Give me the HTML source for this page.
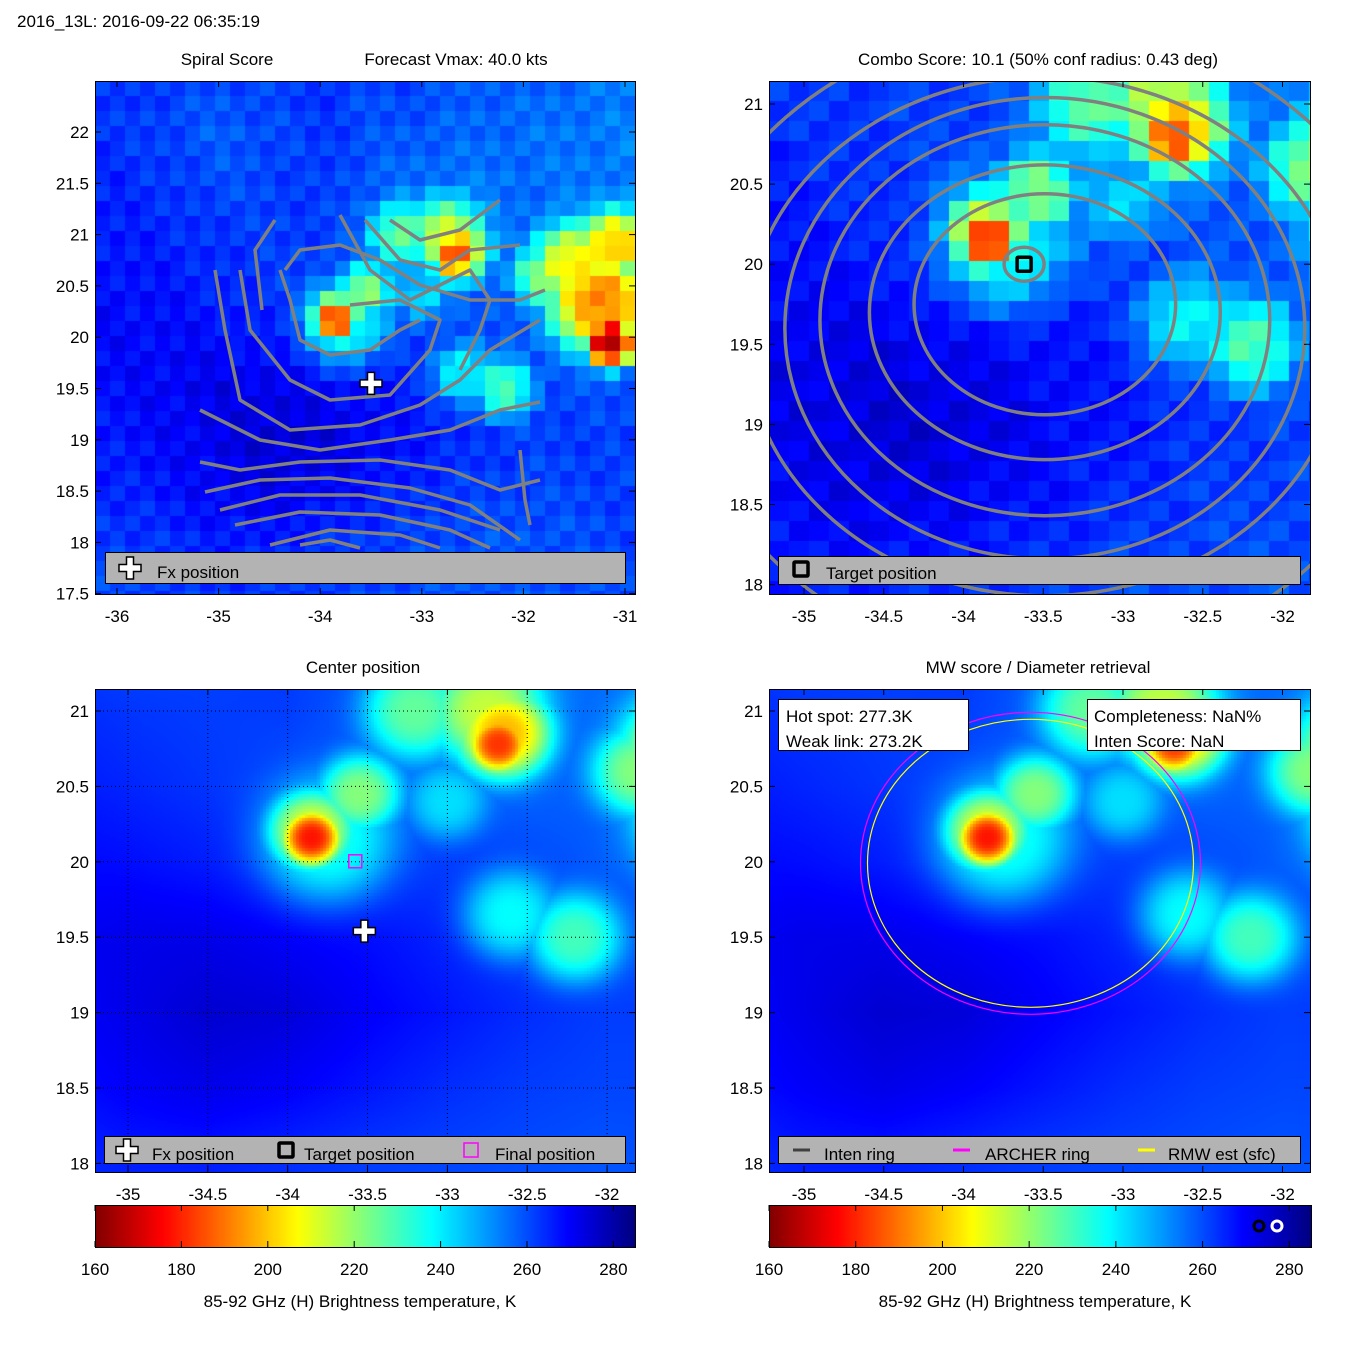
<!DOCTYPE html>
<html><head><meta charset="utf-8">
<style>
body{margin:0;background:#fff;font-family:"Liberation Sans",sans-serif;}
#root{position:relative;width:1350px;height:1350px;overflow:hidden;}
canvas{position:absolute;}
svg{position:absolute;left:0;top:0;}
text{font-family:"Liberation Sans",sans-serif;font-size:17px;fill:#000;}
</style></head>
<body>
<div id="root">
<canvas id="c1" style="left:95px;top:81px" width="540" height="513"></canvas>
<canvas id="c2" style="left:769px;top:81px" width="541" height="513"></canvas>
<canvas id="c3" style="left:95px;top:689px" width="540" height="483"></canvas>
<canvas id="c4" style="left:769px;top:689px" width="541" height="483"></canvas>
<canvas id="cb1" style="left:95px;top:1205px" width="540" height="42"></canvas>
<canvas id="cb2" style="left:769px;top:1205px" width="542" height="42"></canvas>
<svg id="s" width="1350" height="1350"></svg>
</div>
<script>
// Background brightness temperature grid (K): lat rows 22.5..17.5 step 0.5, lon cols -36..-31 step 0.5
const gridLons=[-36,-35.5,-35,-34.5,-34,-33.5,-33,-32.5,-32,-31.5,-31];
const gridLats=[22.5,22,21.5,21,20.5,20,19.5,19,18.5,18,17.5];
const tb=[
[264,262,260,262,264,260,262,258,258,256,255],
[263,261,258,260,263,260,258,257,256,255,254],
[265,263,260,261,263,258,256,255,256,255,254],
[266,265,263,262,262,258,256,255,257,256,255],
[268,267,265,263,260,258,258,257,258,257,256],
[269,269,268,266,262,262,262,261,258,258,257],
[268,270,272,272,270,268,265,262,260,260,260],
[267,269,272,275,274,270,267,264,262,262,262],
[265,267,270,272,270,267,264,262,261,261,262],
[262,264,266,266,264,262,261,260,259,260,261],
[261,262,263,263,262,261,260,259,259,260,261]];
// cold-cloud features (deep convection): centre lon/lat, core temperature, radius (deg)
const spotLon=[-33.75,-33.55,-33.85,-33.85,-33.2,-32.75,-32.65,-32.68,-31.5,-31.25,-31.15,-32.2,-32.6,-31.8,-33.0,-31.1];
const spotLat=[20.15,20.45,20.2,20.16,21.0,21.0,20.85,20.78,20.7,20.35,19.95,19.5,19.65,20.6,20.4,20.9];
const spotT  =[236,222,210,178,226,214,198,182,205,192,162,230,238,222,242,200];
const spotR  =[0.42,0.26,0.28,0.2,0.32,0.36,0.3,0.2,0.42,0.5,0.25,0.3,0.3,0.3,0.25,0.35];
const cbTicks=[160,180,200,220,240,260,280];
const p1X=[-36,-35,-34,-33,-32,-31], p1Y=[22,21.5,21,20.5,20,19.5,19,18.5,18,17.5];
const p2X=[-35,-34.5,-34,-33.5,-33,-32.5,-32], p2Y=[21,20.5,20,19.5,19,18.5,18];
const p3Y=[21,20.5,20,19.5,19,18.5,18];
// combo-score contour rings (deg)
const ringCx=-33.49, ringCy=19.75;
const ringRx=[0.82,1.1,1.41,1.63,1.88,2.3], ringRy=[0.69,0.92,1.22,1.44,1.62,2.0];
const TMIN=160,TMAX=285;

function jet(v){const c=x=>Math.max(0,Math.min(1,x));
 return [c(1.5-Math.abs(4*v-3)),c(1.5-Math.abs(4*v-2)),c(1.5-Math.abs(4*v-1))].map(x=>Math.round(x*255));}
function tcol(T){const v=1-(T-TMIN)/(TMAX-TMIN);const k=jet(v);return `rgb(${k[0]},${k[1]},${k[2]})`;}
function sample(lon,lat){
 let fx=(lon-gridLons[0])/0.5, fy=(gridLats[0]-lat)/0.5;
 fx=Math.max(0,Math.min(gridLons.length-1.001,fx)); fy=Math.max(0,Math.min(gridLats.length-1.001,fy));
 const i=Math.floor(fx),j=Math.floor(fy),a=fx-i,b=fy-j;
 const base=tb[j][i]*(1-a)*(1-b)+tb[j][i+1]*a*(1-b)+tb[j+1][i]*(1-a)*b+tb[j+1][i+1]*a*b;
 let T=base;
 for(let k=0;k<spotLon.length;k++){const d2=((lon-spotLon[k])**2+(lat-spotLat[k])**2)/(spotR[k]**2);
  const g=Math.exp(-Math.pow(d2,1.5));const t=spotT[k]+(base-spotT[k])*(1-g);if(t<T)T=t;}
 return T;}

const P1={L:95,T:81,W:540,H:513,x:l=>117+(l+36)*101.6,y:a=>132+(22-a)*102.6,ix:x=>-36+(x-117)/101.6,iy:y=>22-(y-132)/102.6};
const P2={L:769,T:81,W:541,H:513,x:l=>804+(l+35)*159.5,y:a=>104+(21-a)*160.2,ix:x=>-35+(x-804)/159.5,iy:y=>21-(y-104)/160.2};
const P3={L:95,T:689,W:540,H:483,x:l=>128+(l+35)*159.7,y:a=>711+(21-a)*150.8,ix:x=>-35+(x-128)/159.7,iy:y=>21-(y-711)/150.8};
const P4={L:769,T:689,W:541,H:483,x:l=>804+(l+35)*159.5,y:a=>711+(21-a)*150.8,ix:x=>-35+(x-804)/159.5,iy:y=>21-(y-711)/150.8};

function paint(id,P,bs,jit){const ctx=document.getElementById(id).getContext('2d');
 for(let y=0;y<P.H;y+=bs)for(let x=0;x<P.W;x+=bs){
  let T=sample(P.ix(P.L+x+bs/2),P.iy(P.T+y+bs/2));
  if(jit)T+=((x*7+y*13)%11-5)*0.7;
  ctx.fillStyle=tcol(T);ctx.fillRect(x,y,bs,bs);}}
paint('c1',P1,15,true);paint('c2',P2,20,true);paint('c3',P3,3,false);paint('c4',P4,3,false);
['cb1','cb2'].forEach(id=>{const c=document.getElementById(id),ctx=c.getContext('2d');
 for(let x=0;x<c.width;x++){ctx.fillStyle=tcol(TMIN+(x+0.5)/c.width*(TMAX-TMIN));ctx.fillRect(x,0,1,42);}});

const S=document.getElementById('s');const NS='http://www.w3.org/2000/svg';
function el(tag,attrs,txt){const e=document.createElementNS(NS,tag);for(const k in attrs)e.setAttribute(k,attrs[k]);if(txt!==undefined)e.textContent=txt;S.appendChild(e);return e;}
function txt(x,y,s,anchor,name){const e=el('text',{x:x,y:y,'text-anchor':anchor||'start'},s);
 
 return e;}
function frame(P,name){const e=el('rect',{x:P.L+.5,y:P.T+.5,width:P.W,height:P.H,fill:'none',stroke:'#000'});
 
 }
function axes(P,xs,ys){xs.forEach(v=>{const x=P.x(v);el('line',{x1:x,x2:x,y1:P.T+P.H,y2:P.T+P.H-6,stroke:'#000'});el('line',{x1:x,x2:x,y1:P.T,y2:P.T+6,stroke:'#000'});
  txt(x,P.T+P.H+28,String(v),'middle','x-tick-label');});
 ys.forEach(v=>{const y=P.y(v);el('line',{x1:P.L,x2:P.L+6,y1:y,y2:y,stroke:'#000'});el('line',{x1:P.L+P.W,x2:P.L+P.W-6,y1:y,y2:y,stroke:'#000'});
  txt(P.L-6,y+6,String(v),'end','y-tick-label');});}
function clip(id,x,y,w,h){const cp=el('clipPath',{id:id});const r=document.createElementNS(NS,'rect');
 [['x',x],['y',y],['width',w],['height',h]].forEach(a=>r.setAttribute(a[0],a[1]));cp.appendChild(r);}

txt(17,27,'2016_13L: 2016-09-22 06:35:19','start','figure-title');

clip('cl1',95,81,540,513);
const g1=el('g',{fill:'none',stroke:'#808080','stroke-width':3.5,'stroke-linejoin':'round','clip-path':'url(#cl1)'});


const c1paths=["M300,545 L330,540 L360,548","M270,545 L330,530 L400,535 L440,548","M235,525 L300,512 L380,515 L450,530 L490,548","M220,510 L280,495 L360,495 L440,510 L500,530","M205,492 L260,480 L330,478 L410,488 L470,505 L520,540","M200,462 L240,470 L300,462 L380,460 L450,470 L500,490 L540,480","M200,410 L260,440 L320,450 L390,440 L450,430 L500,410 L540,402","M215,270 L225,330 L240,400 L290,430 L360,425 L420,405 L460,380 L490,350 L540,320","M240,270 L250,330 L290,380 L330,400 L390,395 L430,350 L440,320 L400,300 L350,305","M280,270 L290,300 L300,340 L330,355 L370,350 L400,330 L420,320","M275,220 L255,250 L262,310","M285,270 L300,250 L340,245 L380,260 L420,285 L470,300 L520,300 L545,290","M340,215 L370,270 L410,300 L440,285 L470,270 L490,300 L480,330 L460,370","M365,220 L400,260 L440,270 L470,250 L520,245","M390,220 L420,240 L460,230 L500,200","M520,450 L525,500 L530,525"];
c1paths.forEach(d=>{const p=document.createElementNS(NS,'path');p.setAttribute('d',d);g1.appendChild(p);});

clip('cl2',769,81,541,513);
const g2=el('g',{fill:'none',stroke:'#808080','stroke-width':3.5,'clip-path':'url(#cl2)'});


const inner=document.createElementNS(NS,'ellipse');
[['cx',P2.x(-33.62)],['cy',P2.y(20.0)],['rx',20],['ry',17]].forEach(a=>inner.setAttribute(a[0],a[1]));g2.appendChild(inner);
ringRx.forEach((r,i)=>{const e=document.createElementNS(NS,'ellipse');
 e.setAttribute('cx',P2.x(ringCx));e.setAttribute('cy',P2.y(ringCy)+i*8);e.setAttribute('rx',r*159.5);e.setAttribute('ry',ringRy[i]*160.2);g2.appendChild(e);});

const gr=el('g',{stroke:'#000','stroke-dasharray':'1,3','stroke-width':1});


p2X.forEach(v=>{const l=document.createElementNS(NS,'line');l.setAttribute('x1',P3.x(v));l.setAttribute('x2',P3.x(v));l.setAttribute('y1',689);l.setAttribute('y2',1172);gr.appendChild(l);});
p3Y.forEach(v=>{const l=document.createElementNS(NS,'line');l.setAttribute('x1',95);l.setAttribute('x2',635);l.setAttribute('y1',P3.y(v));l.setAttribute('y2',P3.y(v));gr.appendChild(l);});

const ringLon=-33.58, ringLat=19.99;
const e1=el('ellipse',{cx:P4.x(ringLon),cy:P4.y(ringLat),rx:170,ry:151,fill:'none',stroke:'#ff00ff','stroke-width':1.2});

const e2=el('ellipse',{cx:P4.x(ringLon),cy:P4.y(ringLat),rx:163,ry:144,fill:'none',stroke:'#ffff00','stroke-width':1.2});


function cross(x,y,name){const g=el('g',{});
 const d=`M${x-3.5},${y-11}h7v7.5h7.5v7h-7.5v7.5h-7v-7.5h-7.5v-7h7.5z`;
 const p=document.createElementNS(NS,'path');p.setAttribute('d',d);p.setAttribute('fill','#fff');p.setAttribute('stroke','#000');p.setAttribute('stroke-width',1.5);g.appendChild(p);}
function tsq(x,y,name){const r=el('rect',{x:x-7,y:y-7,width:14,height:14,fill:'none',stroke:'#000','stroke-width':3.5,rx:1});
 }

cross(P1.x(-33.5),P1.y(19.55),'fx-position-marker');
tsq(P2.x(-33.62),P2.y(20.0),'target-position-marker');
cross(P3.x(-33.52),P3.y(19.54),'fx-position-marker');
const fm=el('rect',{x:P3.x(-33.58)-6,y:P3.y(20.0)-7,width:13,height:13,fill:'none',stroke:'#ff00ff','stroke-width':1.5});


frame(P1,'spiral-score-axes');frame(P2,'combo-score-axes');frame(P3,'center-position-axes');frame(P4,'mw-score-axes');
axes(P1,p1X,p1Y);axes(P2,p2X,p2Y);axes(P3,p2X,p3Y);axes(P4,p2X,p3Y);

function box(x,y,w,h,name,fill){const r=el('rect',{x:x+.5,y:y+.5,width:w,height:h,fill:fill,stroke:'#000'});
 }
box(105,552,520,31,'legend-spiral','#b3b3b3');cross(130,568,'legend-fx-icon');txt(157,578,'Fx position','start','legend-entry');
box(778,556,522,28,'legend-combo','#b3b3b3');tsq(801,569,'legend-target-icon');txt(826,579,'Target position','start','legend-entry');
box(104,1136,521,27,'legend-center','#b3b3b3');cross(127,1150,'legend-fx-icon');txt(152,1160,'Fx position','start','legend-entry');
tsq(286,1150,'legend-target-icon');txt(304,1160,'Target position','start','legend-entry');
const lf=el('rect',{x:464,y:1143,width:14,height:14,fill:'none',stroke:'#ff00ff','stroke-width':1.5});
txt(495,1160,'Final position','start','legend-entry');
box(778,1136,522,27,'legend-mw','#b3b3b3');
[['#404040',793,824,'Inten ring'],['#ff00ff',953,985,'ARCHER ring'],['#ffff00',1138,1168,'RMW est (sfc)']].forEach(a=>{
 const l=el('line',{x1:a[1],x2:a[1]+17,y1:1150,y2:1150,stroke:a[0],'stroke-width':3});
 txt(a[2],1160,a[3],'start','legend-entry');});
box(778,699,190,51,'hot-spot-box','#fff');txt(786,722,'Hot spot: 277.3K','start','hot-spot-text');txt(786,747,'Weak link: 273.2K','start','weak-link-text');
box(1087,699,213,51,'completeness-box','#fff');txt(1094,722,'Completeness: NaN%','start','completeness-text');txt(1094,747,'Inten Score: NaN','start','inten-score-text');

txt(227,65,'Spiral Score','middle','spiral-score-title');txt(456,65,'Forecast Vmax: 40.0 kts','middle','forecast-vmax-title');
txt(1038,65,'Combo Score: 10.1  (50% conf radius: 0.43 deg)','middle','combo-score-title');
txt(363,673,'Center position','middle','center-position-title');txt(1038,673,'MW score / Diameter retrieval','middle','mw-score-title');

[[95,540],[769,542]].forEach(c=>{const b=el('rect',{x:c[0]+.5,y:1205.5,width:c[1],height:42,fill:'none',stroke:'#000'});
 
 cbTicks.forEach(v=>{const x=c[0]+(v-TMIN)/(TMAX-TMIN)*c[1];el('line',{x1:x,x2:x,y1:1247,y2:1241,stroke:'#000'});el('line',{x1:x,x2:x,y1:1205,y2:1211,stroke:'#000'});
  txt(x,1275,String(v),'middle','colorbar-tick-label');});
 txt(c[0]+c[1]/2-5,1307,'85-92 GHz (H) Brightness temperature, K','middle','colorbar-label');});
const o1=el('circle',{cx:1259,cy:1226,r:5,fill:'none',stroke:'#000','stroke-width':3});
const o2=el('circle',{cx:1277,cy:1226,r:5,fill:'none',stroke:'#fff','stroke-width':3});
</script>
</body></html>
